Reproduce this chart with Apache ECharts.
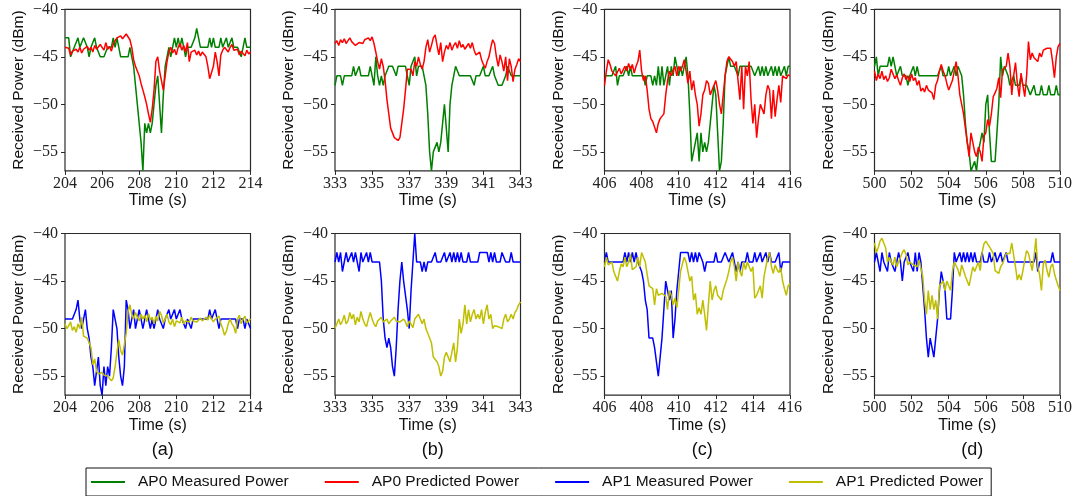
<!DOCTYPE html>
<html><head><meta charset="utf-8">
<script src="https://cdn.jsdelivr.net/npm/echarts@6/dist/echarts.min.js"></script>
<style>html,body{margin:0;padding:0;background:#fff}#c{width:1075px;height:496px}</style>
</head><body><div id="c"></div>
<script>
// ---------------- DATA ----------------
const panelLabels = ['(a)', '(b)', '(c)', '(d)'];
const startTimes = [204, 333, 406, 500];
const sampleStep = 0.1;
const xTickValues = [
  [204, 206, 208, 210, 212, 214],
  [333, 335, 337, 339, 341, 343],
  [406, 408, 410, 412, 414, 416],
  [500, 502, 504, 506, 508, 510]
];
const yTickValues = [-55, -50, -45, -40];
const seriesNames = ['AP0 Measured Power', 'AP0 Predicted Power', 'AP1 Measured Power', 'AP1 Predicted Power'];

// (a)
const ap0Measured_a = [-43,-43,-43,-45,-45,-44,-44,-43,-44,-44,
 -43,-43,-44,-45,-44,-44,-43,-44,-44,-45,
 -45,-45,-45,-44,-44,-44,-43,-44,-43,-44,
 -45,-45,-45,-45,-45,-44,-45,-46,-48,-50,
 -52,-54,-57,-52,-53,-52,-53,-52,-50,-48,
 -47,-50,-53,-49,-46,-45,-44,-45,-44,-43,
 -44,-43,-44,-43,-44,-45,-44,-44,-44,-44,
 -43,-42,-43,-44,-44,-44,-44,-44,-43,-44,
 -43,-44,-44,-44,-43,-44,-44,-43,-44,-44,
 -43,-44,-44,-44,-44,-45,-44,-43,-44,-44,-44];
const ap0Predicted_a = [-44,-44.2,-44.1,-44.8,-44.4,-44.6,-44.2,-44.5,-44.0,-44.6,
 -44.2,-44.0,-43.9,-44.3,-44.0,-44.5,-43.8,-44.2,-44.0,-43.7,
 -44.0,-44.3,-43.5,-44.2,-43.9,-44.4,-43.7,-43.3,-43.0,-43.2,
 -42.8,-43.1,-42.9,-42.6,-42.8,-43.2,-44.0,-45.3,-46.0,-46.5,
 -47.0,-47.8,-48.5,-49.2,-50.0,-51.0,-51.9,-50.5,-48.5,-45.5,
 -45.0,-46.5,-47.5,-48.5,-47.0,-45.5,-44.5,-44.0,-44.6,-44.2,
 -44.8,-44.0,-43.6,-44.3,-43.8,-44.5,-43.5,-45.5,-44.5,-44.7,
 -44.3,-44.8,-44.4,-44.9,-44.5,-44.6,-45.0,-46.0,-47.3,-47.5,
 -46.0,-44.5,-45.5,-47.0,-44.8,-44.3,-44.0,-43.8,-44.5,-44.0,
 -43.7,-44.3,-44.5,-44.2,-44.8,-44.4,-44.6,-44.9,-44.3,-44.7,-44.5];
const ap1Measured_a = [-49,-49,-49,-49,-49,-49,-48,-47,-49,-50,
 -49,-48,-50,-51,-53,-54,-56,-56,-53,-56,
 -57,-54,-56,-54,-55,-52,-48,-48,-50,-53,
 -55,-56,-54,-47,-48,-50,-49,-48,-50,-49,
 -48,-49,-50,-49,-48,-49,-50,-49,-50,-49,
 -48,-49,-49,-50,-49,-49,-48,-49,-49,-48,
 -49,-49,-48,-49,-49,-50,-49,-49,-50,-49,
 -49,-49,-49,-49,-49,-49,-49,-49,-48,-49,
 -49,-48,-49,-50,-49,-49,-49,-49,-49,-49,
 -49,-49,-49,-50,-49,-49,-49,-50,-49,-49,-50];
const ap1Predicted_a = [-49.5,-50.0,-49.7,-49.3,-50.2,-49.8,-50.4,-49.5,-50.0,-48.8,
 -50.8,-51.0,-51.0,-51.2,-52.0,-53.8,-53.2,-54.5,-54.8,-55.0,
 -54.6,-54.9,-54.7,-55.0,-54.8,-55.5,-55.2,-54.0,-52.5,-51.2,
 -52.3,-52.8,-53.0,-50.5,-48.2,-47.5,-48.5,-49.0,-48.3,-48.8,
 -49.2,-48.5,-49.0,-48.6,-49.3,-48.4,-49.1,-48.8,-49.5,-48.7,
 -49.2,-48.2,-48.6,-49.4,-49.0,-48.5,-49.3,-49.6,-49.0,-49.8,
 -49.2,-49.0,-49.4,-48.8,-49.5,-49.2,-49.0,-49.3,-48.8,-49.2,
 -49.0,-49.3,-49.1,-48.9,-49.2,-49.0,-48.8,-49.1,-48.6,-49.0,
 -49.3,-49.0,-49.2,-48.7,-49.5,-50.0,-50.7,-50.3,-49.5,-49.0,
 -49.5,-49.8,-50.5,-49.0,-48.6,-49.5,-49.0,-48.7,-49.4,-49.2,-49.0];

// (b)
const ap0Measured_b = [-48,-47,-47,-47,-48,-47,-47,-47,-47,-47,
 -46,-47,-47,-46,-47,-47,-47,-47,-47,-46,
 -47,-48,-45,-47,-48,-47,-48,-47,-47,-46,
 -46,-46,-46,-47,-46,-46,-46,-46,-46,-47,
 -48,-46,-46,-45,-47,-46,-46,-46,-47,-48,
 -51,-55,-57,-55,-55,-54,-55,-54,-52,-50,
 -50,-55,-50,-48,-47,-46,-46,-47,-47,-47,
 -47,-47,-47,-47,-47,-48,-47,-47,-47,-47,
 -46,-47,-47,-47,-47,-46,-47,-47,-48,-48,
 -48,-48,-47,-46,-46,-47,-47,-47,-47,-47,-47];
const ap0Predicted_b = [-43.6,-43.3,-43.8,-43.2,-43.5,-43.1,-43.6,-43.3,-43.0,-43.4,
 -43.3,-43.8,-43.7,-43.5,-43.3,-43.6,-43.2,-43.4,-43.0,-43.3,
 -42.9,-43.6,-44.5,-45.5,-46.3,-45.2,-46.0,-47.5,-49.5,-51.0,
 -52.5,-53.0,-53.5,-53.6,-53.8,-53.5,-52.0,-50.5,-48.5,-46.3,
 -46.3,-46.3,-47.0,-45.5,-46.0,-45.0,-45.8,-46.3,-45.5,-44.0,
 -43.2,-44.5,-43.8,-43.0,-42.7,-43.8,-44.8,-43.5,-45.5,-44.5,
 -43.8,-44.2,-43.5,-44.3,-43.8,-43.5,-44.1,-43.3,-44.0,-43.7,
 -44.2,-44.0,-43.6,-44.1,-43.5,-44.3,-44.8,-45.0,-44.5,-45.3,
 -45.8,-46.2,-45.5,-45.0,-44.0,-43.2,-43.6,-45.0,-46.0,-44.8,
 -45.5,-46.5,-45.0,-47.5,-45.2,-46.0,-47.6,-46.3,-45.8,-45.2,-45.5];
const ap1Measured_b = [-43,-42,-43,-42,-44,-43,-42,-43,-43,-42,
 -43,-42,-43,-44,-42,-43,-43,-42,-43,-42,
 -43,-43,-43,-43,-43,-45,-49,-51,-52,-51,
 -52,-54,-55,-52,-48,-45,-43,-45,-45,-48,
 -50,-46,-43,-40,-43,-43,-43,-44,-43,-44,
 -43,-43,-43,-43,-42,-43,-43,-43,-43,-42,
 -43,-43,-42,-43,-42,-43,-42,-43,-42,-43,
 -43,-43,-42,-43,-43,-43,-43,-43,-42,-42,
 -42,-42,-42,-43,-42,-43,-42,-43,-43,-43,
 -42,-42,-43,-43,-43,-42,-43,-43,-43,-43,-43];
const ap1Predicted_b = [-50.0,-49.5,-49.0,-49.6,-49.2,-48.6,-49.5,-49.2,-48.3,-49.0,
 -48.5,-49.6,-48.8,-49.3,-48.2,-49.0,-49.5,-49.8,-49.0,-48.3,
 -49.0,-49.5,-49.8,-49.2,-49.0,-48.8,-49.3,-49.5,-49.0,-49.5,
 -49.2,-49.0,-48.8,-49.2,-49.0,-49.3,-49.5,-49.0,-49.3,-49.8,
 -49.2,-49.0,-49.9,-49.0,-48.8,-48.5,-49.0,-49.5,-49.0,-50.0,
 -50.5,-50.4,-51.5,-53.0,-53.2,-53.5,-54.0,-55.0,-54.5,-53.0,
 -52.5,-52.5,-53.5,-52.5,-51.5,-53.5,-52.0,-49.0,-50.5,-49.5,
 -47.5,-49.5,-48.0,-49.3,-48.5,-48.0,-49.0,-48.5,-49.0,-48.0,
 -49.5,-48.3,-47.5,-49.0,-48.5,-50.0,-49.7,-49.5,-49.8,-49.7,
 -50.0,-49.0,-48.5,-49.3,-49.0,-48.5,-49.0,-48.3,-48.0,-47.5,-47.2];

// (c)
const ap0Measured_c = [-47,-47,-47,-47,-47,-47,-46,-48,-47,-47,
 -47,-47,-46,-47,-46,-47,-47,-47,-47,-47,
 -47,-47,-48,-47,-47,-47,-48,-47,-48,-46,
 -48,-46,-48,-47,-46,-48,-46,-47,-45,-46,
 -47,-46,-47,-46,-45,-47,-51,-56,-55,-55,
 -53,-56,-53,-55,-54,-55,-54,-52,-50,-48,
 -49,-53,-57,-56,-52,-47,-46,-45,-46,-46,
 -46,-46,-47,-46,-46,-46,-46,-46,-46,-46,
 -46,-47,-47,-46,-47,-46,-47,-46,-47,-47,
 -46,-47,-46,-47,-46,-47,-47,-46,-47,-46,-46];
const ap0Predicted_c = [-48,-46.5,-45.3,-45.8,-46.5,-46.3,-47.0,-46.6,-46.2,-46.8,
 -46.4,-46.0,-46.5,-45.7,-46.3,-45.8,-46.7,-46.0,-45.5,-44.3,
 -46.5,-47.5,-47.0,-48.5,-50.5,-51.5,-51.8,-52.0,-53.0,-52.0,
 -51.5,-51.5,-51.0,-49.0,-47.5,-46.5,-47.0,-46.5,-46.0,-47.0,
 -46.0,-46.5,-46.0,-45.3,-46.5,-47.8,-46.5,-48.5,-47.5,-49.0,
 -50.0,-52.3,-51.0,-49.0,-48.5,-47.5,-47.8,-49.0,-48.5,-48.3,
 -47.5,-48.5,-50.0,-51.0,-49.0,-47.0,-45.5,-45.0,-45.0,-45.5,
 -46.0,-45.5,-47.5,-49.5,-46.0,-50.5,-46.0,-47.0,-45.5,-49.5,
 -52.0,-50.0,-53.5,-51.5,-50.0,-50.5,-51.0,-49.0,-48.0,-48.5,
 -51.5,-48.5,-51.3,-49.5,-48.0,-49.8,-47.0,-46.8,-47.3,-46.9,-47.0];
const ap1Measured_c = [-43,-42,-43,-43,-43,-43,-43,-43,-43,-43,
 -43,-42,-43,-42,-43,-42,-43,-42,-43,-43,
 -44,-45,-47,-48,-51,-51,-51,-52,-52,-55,
 -53,-51,-48,-45,-46,-47,-46,-51,-49,-46,
 -44,-42,-42,-42,-42,-42,-43,-42,-43,-42,
 -43,-42,-42,-43,-44,-43,-43,-43,-43,-43,
 -42,-43,-43,-43,-43,-42,-42,-43,-43,-42,
 -43,-44,-43,-44,-43,-43,-43,-42,-43,-43,
 -43,-42,-43,-43,-42,-43,-43,-42,-43,-42,
 -43,-43,-43,-43,-42,-44,-43,-43,-43,-43,-43];
const ap1Predicted_c = [-43.5,-42.5,-43.3,-43.5,-43.0,-44.0,-44.5,-45.0,-44.0,-43.2,
 -43.5,-42.5,-43.5,-43.0,-42.2,-43.8,-44.0,-43.5,-42.5,-43.5,
 -42.0,-42.5,-43.0,-44.3,-45.5,-45.3,-45.8,-47.5,-45.8,-46.5,
 -46.3,-46.3,-46.5,-46.6,-48.0,-46.0,-46.5,-47.5,-46.8,-47.8,
 -46.0,-44.0,-43.2,-42.5,-43.0,-44.0,-45.0,-44.5,-47.0,-46.3,
 -48.5,-47.8,-48.5,-47.0,-48.5,-50.2,-47.5,-45.0,-47.0,-46.0,
 -45.5,-46.5,-46.5,-47.0,-46.0,-45.8,-44.8,-44.0,-43.0,-42.5,
 -43.5,-45.0,-43.0,-44.0,-44.5,-43.0,-43.8,-43.0,-42.8,-44.0,
 -43.5,-46.8,-46.5,-46.0,-45.5,-46.8,-44.5,-43.5,-42.5,-42.0,
 -43.5,-44.2,-43.3,-43.8,-44.1,-43.6,-45.0,-45.8,-46.5,-45.5,-45.3];

// (d)
const ap0Measured_d = [-46,-45,-47,-46,-46,-46,-46,-46,-45,-46,
 -45,-46,-47,-47,-46,-47,-47,-47,-48,-47,
 -47,-46,-47,-46,-47,-47,-47,-47,-47,-47,
 -47,-47,-47,-47,-47,-47,-46,-47,-47,-47,
 -46,-47,-47,-46,-47,-46,-46,-47,-49,-52,
 -54,-55,-57,-57,-56,-57,-55,-54,-53,-54,
 -50,-49,-53,-56,-56,-56,-53,-50,-45,-47,
 -46,-46,-47,-48,-48,-47,-48,-48,-48,-47,
 -48,-48,-48,-48,-49,-49,-48,-49,-49,-49,
 -48,-49,-49,-49,-48,-49,-49,-49,-48,-49,-49];
const ap0Predicted_d = [-46.5,-47.5,-46.8,-47.3,-46.5,-47.4,-47.0,-47.6,-47.2,-46.3,
 -46.8,-47.3,-46.9,-47.5,-48.0,-47.2,-46.8,-47.4,-47.0,-47.6,
 -46.8,-47.5,-47.2,-48.0,-47.5,-48.6,-48.3,-48.7,-48.0,-48.5,
 -48.3,-48.8,-49.5,-48.0,-47.5,-46.5,-45.8,-46.5,-47.0,-47.8,
 -48.5,-48.0,-47.5,-46.5,-45.5,-47.0,-49.0,-50.0,-51.0,-52.5,
 -54.0,-55.5,-53.0,-54.0,-55.0,-55.5,-54.5,-55.0,-56.0,-53.3,
 -53.0,-51.6,-52.3,-51.0,-49.2,-48.8,-48.3,-47.2,-49.3,-46.4,
 -46.2,-46.0,-44.6,-46.0,-49.0,-47.0,-45.6,-47.8,-49.2,-46.7,
 -48.0,-49.2,-47.0,-43.4,-45.3,-44.6,-45.1,-44.9,-45.5,-44.6,
 -45.0,-44.3,-44.4,-44.1,-44.3,-44.1,-45.5,-47.2,-45.0,-43.9,-43.6];
const ap1Measured_d = [-43,-42,-43,-44,-42,-43,-43,-44,-42,-43,
 -43,-44,-43,-42,-43,-45,-43,-43,-42,-43,
 -43,-44,-42,-44,-42,-43,-43,-48,-51,-53,
 -51,-51,-53,-51,-49,-46,-44,-45,-46,-49,
 -49,-49,-46,-42,-43,-43,-42,-43,-42,-43,
 -42,-43,-42,-43,-42,-43,-43,-43,-42,-43,
 -43,-43,-42,-43,-43,-42,-43,-43,-42,-43,
 -43,-42,-43,-43,-43,-43,-43,-43,-43,-43,
 -43,-43,-43,-43,-43,-43,-43,-42,-44,-43,
 -43,-43,-43,-43,-43,-43,-42,-43,-43,-43,-43];
const ap1Predicted_d = [-41.0,-42.0,-41.5,-40.8,-40.5,-41.0,-41.5,-43.0,-42.5,-43.0,
 -43.3,-42.5,-43.5,-43.0,-42.8,-42.0,-41.7,-42.2,-43.3,-43.0,
 -42.8,-43.3,-43.1,-43.5,-42.8,-43.0,-44.5,-47.0,-48.5,-46.0,
 -48.0,-46.5,-48.0,-47.0,-49.0,-45.5,-45.5,-45.0,-46.0,-45.0,
 -45.5,-46.0,-44.0,-43.0,-43.2,-43.8,-44.5,-43.3,-43.5,-44.5,
 -45.0,-45.5,-45.5,-43.5,-44.0,-43.5,-43.0,-43.9,-42.0,-41.1,
 -40.8,-40.7,-41.4,-41.2,-42.1,-43.9,-44.1,-44.2,-43.5,-43.2,
 -43.2,-42.1,-42.3,-42.1,-41.0,-40.8,-43.5,-44.9,-44.3,-44.9,
 -43.9,-42.8,-41.8,-42.1,-42.1,-43.9,-42.5,-40.5,-43.5,-44.3,
 -46.0,-43.2,-42.8,-43.9,-44.6,-43.5,-43.2,-44.2,-44.9,-45.5,-46.0];

const topRowData = [
  [ap0Measured_a, ap0Predicted_a],
  [ap0Measured_b, ap0Predicted_b],
  [ap0Measured_c, ap0Predicted_c],
  [ap0Measured_d, ap0Predicted_d]
];
const bottomRowData = [
  [ap1Measured_a, ap1Predicted_a],
  [ap1Measured_b, ap1Predicted_b],
  [ap1Measured_c, ap1Predicted_c],
  [ap1Measured_d, ap1Predicted_d]
];

// ---------------- LAYOUT / STYLE ----------------
const colors = ['#008000', '#ff0000', '#0000ff', '#bfbf00'];
const colLeft = [65, 335, 604.5, 874.5];
const gridW = 185.5;
const rowTop = [9.3, 233.5];
const gridH = 161.6;
const serif = "'Liberation Serif', 'DejaVu Serif', serif";
const sans = "'Liberation Sans', Arial, sans-serif";

const grids = [], xAxes = [], yAxes = [], series = [], titles = [];
function toPairs(values, t0) {
  return values.map((v, i) => [Math.round((t0 + i * sampleStep) * 1000) / 1000, v]);
}
for (let row = 0; row < 2; row++) {
  for (let p = 0; p < 4; p++) {
    const gi = row * 4 + p;
    grids.push({ left: colLeft[p], top: rowTop[row], width: gridW, height: gridH,
      show: true, borderColor: '#2a2a2a', borderWidth: 1.2, backgroundColor: 'transparent', containLabel: false });
    xAxes.push({
      type: 'value', gridIndex: gi, min: startTimes[p], max: startTimes[p] + 10,
      name: 'Time (s)', nameLocation: 'middle', nameGap: 22,
      nameTextStyle: { fontFamily: sans, fontSize: 16, color: '#111' },
      axisLine: { show: false, onZero: false },
      axisTick: { show: true, inside: false, length: 4, customValues: xTickValues[p], lineStyle: { color: '#2a2a2a', width: 1 } },
      axisLabel: { show: true, customValues: xTickValues[p], margin: 5, fontFamily: serif, fontSize: 16, color: '#222' },
      splitLine: { show: false }
    });
    yAxes.push({
      type: 'value', gridIndex: gi, min: -57, max: -40,
      name: 'Received Power (dBm)', nameLocation: 'middle', nameGap: 38, nameRotate: 90,
      nameTextStyle: { fontFamily: sans, fontSize: 15.5, color: '#111' },
      axisLine: { show: false, onZero: false },
      axisTick: { show: true, inside: false, length: 4, customValues: yTickValues, lineStyle: { color: '#2a2a2a', width: 1 } },
      axisLabel: { show: true, customValues: yTickValues, margin: 7, fontFamily: serif, fontSize: 16, color: '#222',
        formatter: v => String(v).replace('-', '\u2212') },
      splitLine: { show: false }
    });
    const pair = row === 0 ? topRowData[p] : bottomRowData[p];
    for (let k = 0; k < 2; k++) {
      const ci = row * 2 + k;
      series.push({
        type: 'line', name: seriesNames[ci], xAxisIndex: gi, yAxisIndex: gi,
        data: toPairs(pair[k], startTimes[p]), symbol: 'none', showSymbol: false,
        lineStyle: { color: colors[ci], width: 1.5 }, itemStyle: { color: colors[ci] },
        animation: false, clip: true, z: 2 + k
      });
    }
  }
}
for (let p = 0; p < 4; p++) {
  titles.push({ text: panelLabels[p], left: colLeft[p] + gridW / 2, top: 436, textAlign: 'center',
    textStyle: { fontFamily: sans, fontSize: 18, fontWeight: 'normal', color: '#111' } });
}

const chart = echarts.init(document.getElementById('c'), null, { renderer: 'canvas' });
chart.setOption({
  animation: false,
  backgroundColor: '#fff',
  title: titles,
  grid: grids, xAxis: xAxes, yAxis: yAxes, series: series,
  legend: {
    data: seriesNames, left: 86, top: 468, orient: 'horizontal',
    icon: 'rect', itemWidth: 34, itemHeight: 2, itemGap: 36,
    padding: [6, 8, 6, 5],
    borderColor: '#111', borderWidth: 1, borderRadius: 0,
    textStyle: { fontFamily: sans, fontSize: 15.5, color: '#111', padding: [0, 0, 0, 8] }
  }
});
</script>
</body></html>
